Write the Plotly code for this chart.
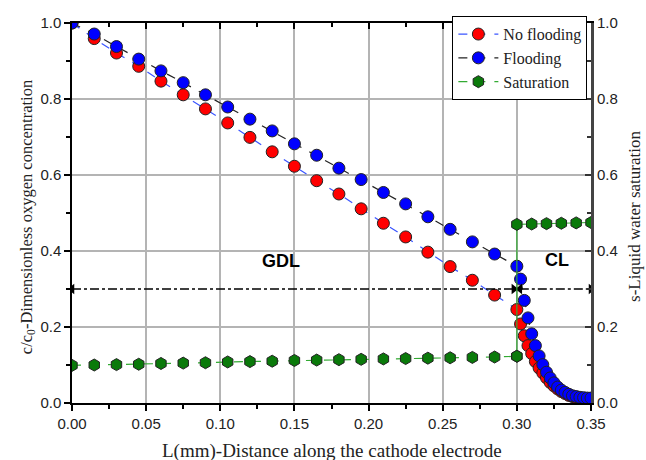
import plotly.graph_objects as go

# ---- data ----
x_gdl = [0.000, 0.015, 0.030, 0.045, 0.060, 0.075, 0.090, 0.105, 0.120, 0.135, 0.150,
         0.165, 0.180, 0.195, 0.210, 0.225, 0.240, 0.255, 0.270, 0.285, 0.300]
x_cl = [0.3025, 0.3050, 0.3075, 0.3100, 0.3125, 0.3150, 0.3175, 0.3200, 0.3225, 0.3250,
        0.3275, 0.3300, 0.3325, 0.3350, 0.3375, 0.3400, 0.3425, 0.3450, 0.3475, 0.3500]

noflood_gdl = [1.000, 0.959, 0.921, 0.886, 0.847, 0.811, 0.774, 0.737, 0.699, 0.661, 0.623,
               0.585, 0.550, 0.511, 0.473, 0.437, 0.397, 0.359, 0.323, 0.284, 0.246]
noflood_cl = [0.208, 0.177, 0.151, 0.130, 0.109, 0.092, 0.079, 0.066, 0.054, 0.045,
              0.037, 0.030, 0.025, 0.020, 0.017, 0.014, 0.012, 0.011, 0.010, 0.010]

flood_gdl = [1.000, 0.971, 0.938, 0.905, 0.874, 0.843, 0.811, 0.779, 0.747, 0.716, 0.682,
             0.652, 0.618, 0.588, 0.554, 0.524, 0.490, 0.457, 0.424, 0.392, 0.360]
flood_cl = [0.326, 0.270, 0.224, 0.182, 0.151, 0.124, 0.101, 0.081, 0.066, 0.053,
            0.042, 0.034, 0.028, 0.023, 0.019, 0.017, 0.015, 0.014, 0.013, 0.013]

sat_gdl = [0.099, 0.100, 0.101, 0.102, 0.104, 0.105, 0.106, 0.108, 0.109, 0.110, 0.112,
           0.113, 0.114, 0.115, 0.116, 0.117, 0.118, 0.119, 0.120, 0.121, 0.123]
x_sat_cl = [0.30, 0.31, 0.32, 0.33, 0.34, 0.35]
sat_cl = [0.470, 0.471, 0.472, 0.473, 0.474, 0.475]

region_labels = ["GDL", "CL"]
region_label_x = [0.141, 0.327]
region_label_y = [0.373, 0.377]
arrow_y = 0.30
gdl_span = [0.0, 0.298]
cl_span = [0.302, 0.35]

x_ticks = [0.00, 0.05, 0.10, 0.15, 0.20, 0.25, 0.30, 0.35]
y_ticks = [0.0, 0.2, 0.4, 0.6, 0.8, 1.0]

SERIF = "Liberation Serif"
SANS = "Liberation Sans"

fig = go.Figure()

mk_line = dict(color="#222222", width=1)

fig.add_trace(go.Scatter(
    x=x_gdl + x_cl, y=noflood_gdl + noflood_cl, name="No flooding",
    mode="lines+markers",
    line=dict(color="#3a55ff", width=1.2, dash="dash"),
    marker=dict(symbol="circle", size=12, color="#ff0000", line=mk_line),
))
fig.add_trace(go.Scatter(
    x=x_gdl + x_cl, y=flood_gdl + flood_cl, name="Flooding",
    mode="lines+markers",
    line=dict(color="#222222", width=1.2, dash="dash"),
    marker=dict(symbol="circle", size=12, color="#0000ff", line=mk_line),
))
fig.add_trace(go.Scatter(
    x=x_gdl, y=sat_gdl, name="Saturation",
    mode="lines+markers", yaxis="y2",
    line=dict(color="#33aa33", width=1.2, dash="dash"),
    marker=dict(symbol="hexagon", size=12, color="#0a7a0a", line=mk_line),
))
fig.add_trace(go.Scatter(
    x=[x_gdl[-1]] + x_sat_cl, y=[sat_gdl[-1]] + sat_cl, showlegend=False,
    mode="lines+markers", yaxis="y2",
    line=dict(color="#33aa33", width=1.2),
    marker=dict(symbol="hexagon", size=12, color="#0a7a0a", line=mk_line),
))

# dash-dot region arrows
for span in (gdl_span, cl_span):
    fig.add_trace(go.Scatter(
        x=span, y=[arrow_y, arrow_y], mode="lines+markers", showlegend=False,
        line=dict(color="black", width=1.5, dash="dashdot"),
        marker=dict(symbol=["triangle-left", "triangle-right"], size=9, color="black",
                    line=dict(width=0)),
        hoverinfo="skip",
    ))

for lab, lx, ly in zip(region_labels, region_label_x, region_label_y):
    fig.add_annotation(x=lx, y=ly, text="<b>%s</b>" % lab, showarrow=False,
                       font=dict(family=SANS, size=18, color="black"))

# axis titles
fig.add_annotation(xref="paper", yref="paper", x=0.5, y=-0.127, yanchor="middle",
                   text="L(mm)-Distance along the cathode electrode", showarrow=False,
                   font=dict(family=SERIF, size=19, color="#222"))
fig.add_annotation(xref="paper", yref="paper", x=-0.088, y=0.49, xanchor="center",
                   yanchor="middle", textangle=-90,
                   text="c/c<sub>0</sub>-Dimensionless oxygen concentration", showarrow=False,
                   font=dict(family=SERIF, size=16.5, color="#222"))
fig.add_annotation(xref="paper", yref="paper", x=1.085, y=0.49, xanchor="center",
                   yanchor="middle", textangle=-90,
                   text="s-Liquid water saturation", showarrow=False,
                   font=dict(family=SERIF, size=17, color="#222"))

tickfont = dict(family=SANS, size=15, color="#222")
grid = dict(showgrid=True, gridcolor="#b4b4b4", gridwidth=1.5)

fig.update_layout(
    width=646, height=460,
    margin=dict(l=72, r=55, t=23, b=57),
    plot_bgcolor="white", paper_bgcolor="white",
    showlegend=True,
    legend=dict(x=0.993, y=1.018, xanchor="right", yanchor="top",
                bgcolor="white", bordercolor="black", borderwidth=1,
                font=dict(family=SERIF, size=16, color="#222"),
                tracegroupgap=0, itemwidth=40),
    xaxis=dict(range=[0, 0.35], tickvals=x_ticks, ticktext=["%.2f" % v for v in x_ticks],
               ticks="outside", ticklen=6, tickwidth=1.5, tickcolor="black",
               showline=True, linecolor="black", linewidth=1.5, zeroline=False,
               tickfont=tickfont,
               minor=dict(dtick=0.025, ticks="outside", ticklen=4, tickcolor="black", showgrid=False),
               **grid),
    xaxis2=dict(range=[0, 0.35], overlaying="x", side="top", tickvals=x_ticks,
                showticklabels=False, ticks="inside", ticklen=6, tickwidth=1.5, tickcolor="black",
                showline=True, linecolor="black", linewidth=1.5, showgrid=False, zeroline=False,
                minor=dict(dtick=0.025, ticks="inside", ticklen=4, tickcolor="black")),
    yaxis=dict(range=[0, 1.0], tickvals=y_ticks, ticktext=["%.1f" % v for v in y_ticks],
               ticks="outside", ticklen=6, tickwidth=1.5, tickcolor="black",
               showline=True, linecolor="black", linewidth=1.5, zeroline=False,
               tickfont=tickfont,
               minor=dict(dtick=0.1, ticks="outside", ticklen=4, tickcolor="black", showgrid=False),
               **grid),
    yaxis2=dict(range=[0, 1.0], overlaying="y", side="right", tickvals=y_ticks,
                ticktext=["%.1f" % v for v in y_ticks],
                ticks="inside", ticklen=6, tickwidth=1.5, tickcolor="#333",
                showline=True, linecolor="#444", linewidth=3, showgrid=False, zeroline=False,
                tickfont=tickfont,
                minor=dict(dtick=0.1, ticks="inside", ticklen=4, tickcolor="#333")),
)

# dummy trace to activate the top axis
fig.add_trace(go.Scatter(x=[0], y=[0], xaxis="x2", mode="markers", showlegend=False,
                         marker=dict(opacity=0), hoverinfo="skip"))

fig.write_html("out.html")
